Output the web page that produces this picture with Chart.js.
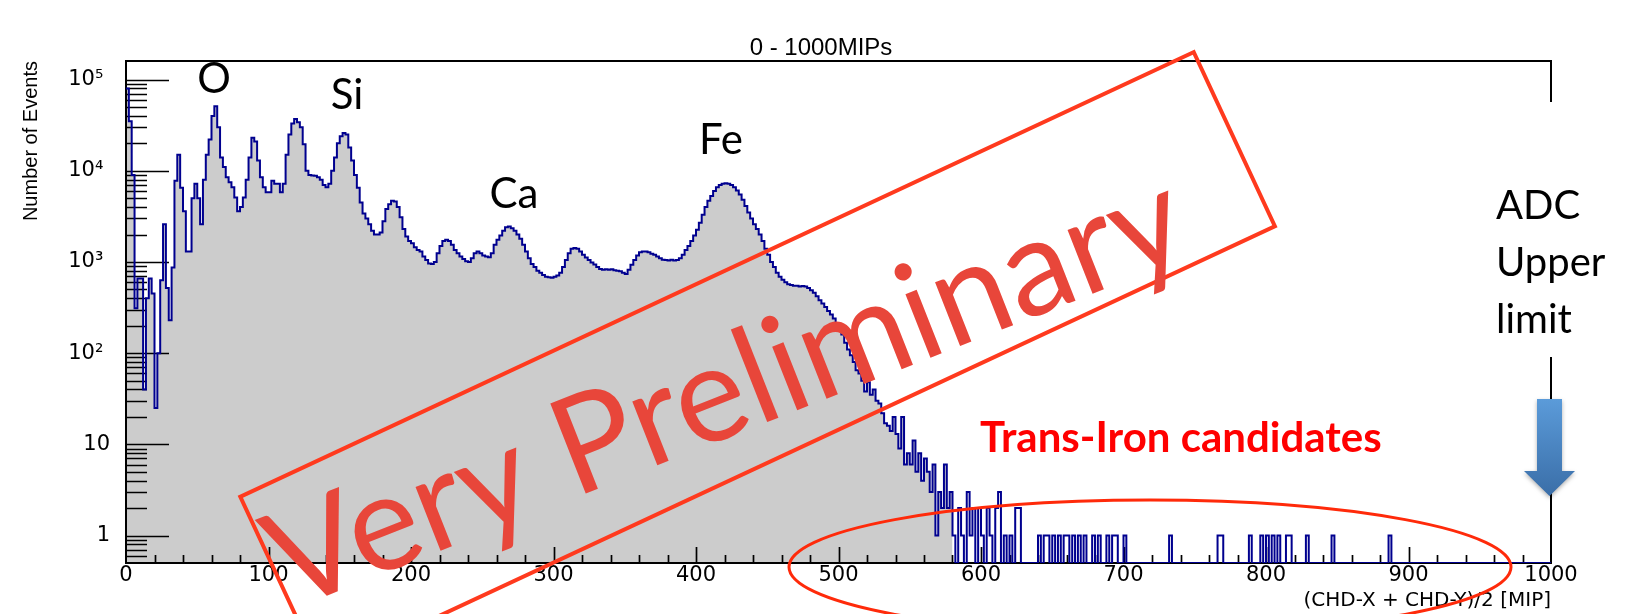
<!DOCTYPE html>
<html>
<head>
<meta charset="utf-8">
<title>0 - 1000MIPs</title>
<script src="https://cdn.jsdelivr.net/npm/chart.js@4.4.1/dist/chart.umd.min.js"></script>
<style>
 html,body{margin:0;padding:0;background:#fff;}
 canvas{display:block;}
</style>
</head>
<body>
<canvas id="canvas_chd" width="1625" height="614"></canvas>
<script>
// (CHD-X + CHD-Y)/2 histogram, 2 MIP bins starting at 0
var binWidth=2;
var counts=[
 80000,35000,9000,310,660,660,40,400,660,450,25,100,630,2600,520,230,870,7800,15000,6500,     // 0-40
 3600,1300,1300,5000,7200,5000,2600,8000,15000,22000,40000,51000,30000,14000,11000,8500,7500,6600,5100,3600, // 40-80
 4000,5100,8000,14000,23000,21000,13000,8500,6600,5800,5800,7800,7200,7200,5800,7200,15000,25000,33000,37000, // 80-120
 34000,30000,19500,10000,9000,8900,8800,8500,8000,7000,6600,7200,10000,14000,20000,24000,26000,25000,18000,13000, // 120-160
 9000,6500,4500,3400,3000,2600,2200,2000,2000,2100,2800,3800,4300,4700,4600,4000,3100,2300,1900,1700, // 160-200
 1600,1450,1350,1300,1150,1050,960,950,1000,1250,1500,1700,1750,1700,1550,1350,1250,1150,1080,1020, // 200-240
 1000,1100,1250,1300,1250,1180,1150,1130,1250,1550,1750,1950,2200,2400,2450,2350,2200,2000,1800,1550, // 240-280
 1300,1100,950,880,800,760,720,690,680,670,690,710,760,880,1050,1250,1400,1420,1400,1300, // 280-320
 1200,1120,1050,990,940,880,840,820,830,820,830,810,800,790,760,740,820,930,1050,1180, // 320-360
 1280,1300,1300,1280,1230,1200,1150,1100,1060,1050,1040,1060,1040,1050,1100,1200,1350,1500,1700,1950, // 360-400
 2250,2700,3300,4000,4700,5300,6000,6600,7000,7200,7300,7200,7000,6600,6100,5500,4800,4100,3500,3000, // 400-440
 2600,2300,2000,1700,1400,1200,1000,880,760,690,640,600,570,560,550,550,540,545,540,520, // 440-480
 490,460,420,380,350,320,290,265,240,210,190,160,130,110,95,80,65,60,50,38, // 480-520
 48,35,40,30,28,22,17,16,14,20,13,9,20,6,8,6,11,5,8,4, // 520-560
 7,5,3,6,1,3,2,6,2,3,1,0,2,1,0,3,1,2,0,2, // 560-600
 1,0,2,1,0,2,3,0,1,0,1,0,2,2,0,0,0,0,0,0, // 600-640
 1,0,1,1,0,1,0,1,0,1,1,0,1,0,1,0,1,0,0,1, // 640-680
 0,1,0,0,1,0,1,1,0,0,1,0,0,0,0,0,0,0,0,0, // 680-720
 0,0,0,0,0,0,1,0,0,0,0,0,0,0,0,0,0,0,0,0, // 720-760
 0,0,0,1,1,0,0,0,0,0,0,0,0,0,1,0,0,0,1,0, // 760-800
 1,0,1,0,1,0,0,1,1,0,0,0,0,0,1,0,0,0,0,0, // 800-840
 0,0,0,1,0,0,0,0,0,0,0,0,0,0,0,0,0,0,0,0, // 840-880
 0,0,0,1,0,0,0,0,0,0,0,0,0,0,0,0,0,0,0,0, // 880-920
 0,0,0,0,0,0,0,0,0,0,0,0,0,0,0,0,0,0,0,0, // 920-960
 0,0,0,0,0,0,0,0,0,0,0,0,0,0,0,0,0,0,0,0  // 960-1000
];
var fillEnd=580; // grey fill stops here
var xMax=1000;
var yMin=0.5, yMax=160000;
var yTickValues=[1,10,100,1000,10000,100000];
var yTickLabels=['1','10','10\u00b2 ','10\u00b3 ','10\u2074 ','10\u2075 '];
var peakNames=['O','Si','Ca','Fe'];

// build stepped points (bin lower edges), empty bins sit on the axis floor
var linePoints=[], fillPoints=[];
for(var i=0;i<counts.length;i++){
 var lo=i*binWidth, v=counts[i]>0?counts[i]:yMin;
 linePoints.push({x:lo,y:v});
 if(lo<fillEnd){fillPoints.push({x:lo,y:v});}
}
linePoints.push({x:xMax,y:linePoints[linePoints.length-1].y});
fillPoints.push({x:fillEnd,y:fillPoints[fillPoints.length-1].y});

/* frame and ROOT style ticks, drawn between the grey fill and the outline */
function drawFrame(chart){
 var ctx=chart.ctx, a=chart.chartArea, xs=chart.scales.x, ys=chart.scales.y;
 ctx.save();
 ctx.strokeStyle='#000';
 ctx.lineWidth=2;
 ctx.strokeRect(a.left,a.top,a.right-a.left,a.bottom-a.top);
 ctx.lineWidth=1.7;
 ctx.beginPath();
 for(var d=-1;d<=5;d++){
  for(var k=1;k<=9;k++){
   var v=k*Math.pow(10,d);
   if(v<=yMin||v>=yMax){continue;}
   var py=Math.round(ys.getPixelForValue(v))+0.5;
   ctx.moveTo(a.left,py);ctx.lineTo(a.left+(k===1?43:21),py);
  }
 }
 for(var m=20;m<xMax;m+=20){
  var px=Math.round(xs.getPixelForValue(m))+0.5;
  ctx.moveTo(px,a.bottom);ctx.lineTo(px,a.bottom-(m%100===0?16:8));
 }
 ctx.stroke();
 ctx.restore();
}

/* slide annotations on top */
function drawNotes(chart){
 var ctx=chart.ctx;
 ctx.save();
 // gap in the right frame behind the ADC note
 ctx.fillStyle='#fff';
 ctx.fillRect(1490,102,135,255);
 // title
 ctx.font='24px "Liberation Sans"';
 ctx.fillStyle='#000';
 ctx.textAlign='center';
 ctx.textBaseline='middle';
 ctx.fillText('0 - 1000MIPs',821,48);
 // peak names
 ctx.font='42px Lato';
 ctx.textBaseline='alphabetic';
 var px=[214,347,514,721], py=[93,109,208,154];
 for(var i=0;i<peakNames.length;i++){ctx.fillText(peakNames[i],px[i],py[i]);}
 // ADC note
 ctx.font='40px Lato';
 ctx.textAlign='left';
 ctx.fillText('ADC',1496,219);
 ctx.fillText('Upper',1496,276);
 ctx.fillText('limit',1496,333);
 // arrow
 ctx.save();
 var g=ctx.createLinearGradient(0,399,0,496);
 g.addColorStop(0,'#5b9bd9');
 g.addColorStop(1,'#3a6ea8');
 ctx.fillStyle=g;
 ctx.shadowColor='rgba(0,0,0,0.3)';
 ctx.shadowBlur=4;
 ctx.shadowOffsetY=2;
 ctx.beginPath();
 ctx.moveTo(1537,399);ctx.lineTo(1562,399);ctx.lineTo(1562,471);ctx.lineTo(1575,471);
 ctx.lineTo(1549.5,496);ctx.lineTo(1524,471);ctx.lineTo(1537,471);ctx.closePath();
 ctx.fill();
 ctx.restore();
 // trans-iron note
 ctx.font='bold 42px Lato';
 ctx.fillStyle='#ff0000';
 ctx.fillText('Trans-Iron candidates',980,452);
 // ellipse
 ctx.beginPath();
 ctx.ellipse(1150,567,361,67,0,0,2*Math.PI);
 ctx.strokeStyle='#ff2a0a';
 ctx.lineWidth=3;
 ctx.stroke();
 // watermark box
 ctx.save();
 ctx.translate(757.6,361.5);
 ctx.rotate(-25*Math.PI/180);
 ctx.strokeStyle='#ff3a1e';
 ctx.lineWidth=4;
 ctx.strokeRect(-526,-96,1052,192);
 ctx.restore();
 // watermark text
 ctx.translate(742,432);
 ctx.rotate(-21.5*Math.PI/180);
 ctx.font='135px Lato';
 ctx.fillStyle='#e8463a';
 ctx.textAlign='center';
 ctx.fillText('Very Preliminary',0,0);
 ctx.restore();
}

var chdPlugin={
 id:'chd_root',
 afterDatasetDraw:function(chart,args){if(args.index===0){drawFrame(chart);}},
 afterDraw:function(chart){drawNotes(chart);}
};

var ctx=document.getElementById('canvas_chd').getContext('2d');
var myChart=new Chart(ctx,{
 type:'line',
 data:{
  datasets:[
   {label:'fill',data:fillPoints,stepped:true,fill:'start',backgroundColor:'#cccccc',borderWidth:0,pointRadius:0,order:2},
   {label:'events',data:linePoints,stepped:true,fill:false,borderColor:'#00008f',borderWidth:2,pointRadius:0,order:1}
  ]
 },
 options:{
  responsive:false,
  animation:false,
  events:[],
  layout:{padding:{top:61,right:74,bottom:0,left:0}},
  plugins:{legend:{display:false},tooltip:{enabled:false},title:{display:false}},
  scales:{
   x:{
    type:'linear',min:0,max:xMax,
    grid:{display:false,drawTicks:false},
    border:{display:false},
    ticks:{stepSize:100,padding:0,maxRotation:0,autoSkip:false,color:'#000',font:{family:'DejaVu Sans',size:21},
     callback:function(v){return String(v);}},
    title:{display:true,text:'(CHD-X + CHD-Y)/2 [MIP]',align:'end',color:'#000',font:{family:'DejaVu Sans',size:20},padding:{top:0,bottom:1}},
    afterFit:function(s){s.height=51;}
   },
   y:{
    type:'logarithmic',min:yMin,max:yMax,
    grid:{display:false,drawTicks:false},
    border:{display:false},
    afterBuildTicks:function(s){s.ticks=yTickValues.map(function(v){return {value:v};});},
    ticks:{padding:16,autoSkip:false,color:'#000',font:{family:'DejaVu Sans',size:21},
     callback:function(v){var i=yTickValues.indexOf(v);return i<0?'':yTickLabels[i];}},
    title:{display:true,text:'Number of Events',align:'end',color:'#000',font:{family:'Liberation Sans',size:20},padding:{top:19,bottom:0}},
    afterFit:function(s){s.width=126;}
   }
  }
 },
 plugins:[chdPlugin]
});
</script>
</body>
</html>
